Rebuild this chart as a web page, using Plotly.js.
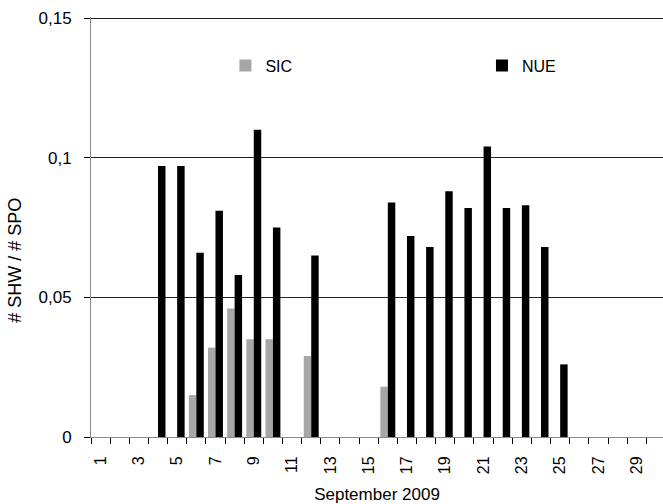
<!DOCTYPE html>
<html>
<head>
<meta charset="utf-8">
<script src="https://cdn.plot.ly/plotly-3.0.1.min.js"></script>
<style>html,body{margin:0;padding:0;background:#fff;}#chart{width:663px;height:504px;}</style>
</head>
<body>
<div id="chart"></div>
<script>
var days = ['1','2','3','4','5','6','7','8','9','10','11','12','13','14','15','16','17','18','19','20','21','22','23','24','25','26','27','28','29','30'];
var tickLabels = ['1','','3','','5','','7','','9','','11','','13','','15','','17','','19','','21','','23','','25','','27','','29',''];
var sic = [null,null,null,null,null,0.015,0.032,0.046,0.035,0.035,null,0.029,null,null,null,0.018,null,null,null,null,null,null,null,null,null,null,null,null,null,null];
var nue = [null,null,null,0.097,0.097,0.066,0.081,0.058,0.110,0.075,null,0.065,null,null,null,0.084,0.072,0.068,0.088,0.082,0.104,0.082,0.083,0.068,0.026,null,null,null,null,null];
var yTickVals = [0, 0.05, 0.1, 0.15];
var yTickText = ['0', '0,05', '0,1', '0,15'];

var font = 'Liberation Sans, Arial, sans-serif';
var traces = [
  {type:'bar', name:'SIC', x:days, y:sic, marker:{color:'#a6a6a6'}, legend:'legend'},
  {type:'bar', name:'NUE', x:days, y:nue, marker:{color:'#000000'}, legend:'legend2'}
];
var legendBase = {orientation:'h', xanchor:'left', yanchor:'top',
                  font:{family:font, size:16, color:'#000'}, bgcolor:'rgba(0,0,0,0)'};
var layout = {
  width:663, height:504,
  margin:{l:91, r:0, t:17, b:67},
  paper_bgcolor:'#fff', plot_bgcolor:'#fff',
  font:{family:font, size:16, color:'#000'},
  barmode:'group', bargap:0.22, bargroupgap:0,
  showlegend:true,
  legend:Object.assign({}, legendBase, {x:0.235, y:0.925}),
  legend2:Object.assign({}, legendBase, {x:0.6835, y:0.925}),
  xaxis:{type:'category', range:[-0.5, 29.37], tickvals:days, ticktext:tickLabels,
         tickson:'boundaries', ticks:'outside', ticklen:6, tickcolor:'#000', tickwidth:1,
         tickangle:-90, showline:true, linecolor:'#888', linewidth:1, showgrid:false,
         zeroline:false, ticklabelstandoff:12,
         tickfont:{family:font, size:16, color:'#000'},
         title:{text:'September 2009', font:{family:font, size:17, color:'#000'}, standoff:19},
         automargin:false},
  yaxis:{range:[0, 0.1504], tickvals:yTickVals, ticktext:yTickText, ticks:'outside', ticklen:6,
         tickcolor:'#000', tickwidth:1, showline:true, linecolor:'#888', linewidth:1,
         showgrid:true, gridcolor:'#222', gridwidth:1, zeroline:false, ticklabelstandoff:9,
         tickfont:{family:font, size:17, color:'#000'}, automargin:false},
  annotations:[{text:'# SHW / # SPO', xref:'paper', yref:'paper', x:-0.133, y:0.422,
                xanchor:'center', yanchor:'middle', textangle:-90, showarrow:false,
                font:{family:font, size:18, color:'#000'}}]
};
Plotly.newPlot('chart', traces, layout, {displayModeBar:false, staticPlot:true});
</script>
</body>
</html>
